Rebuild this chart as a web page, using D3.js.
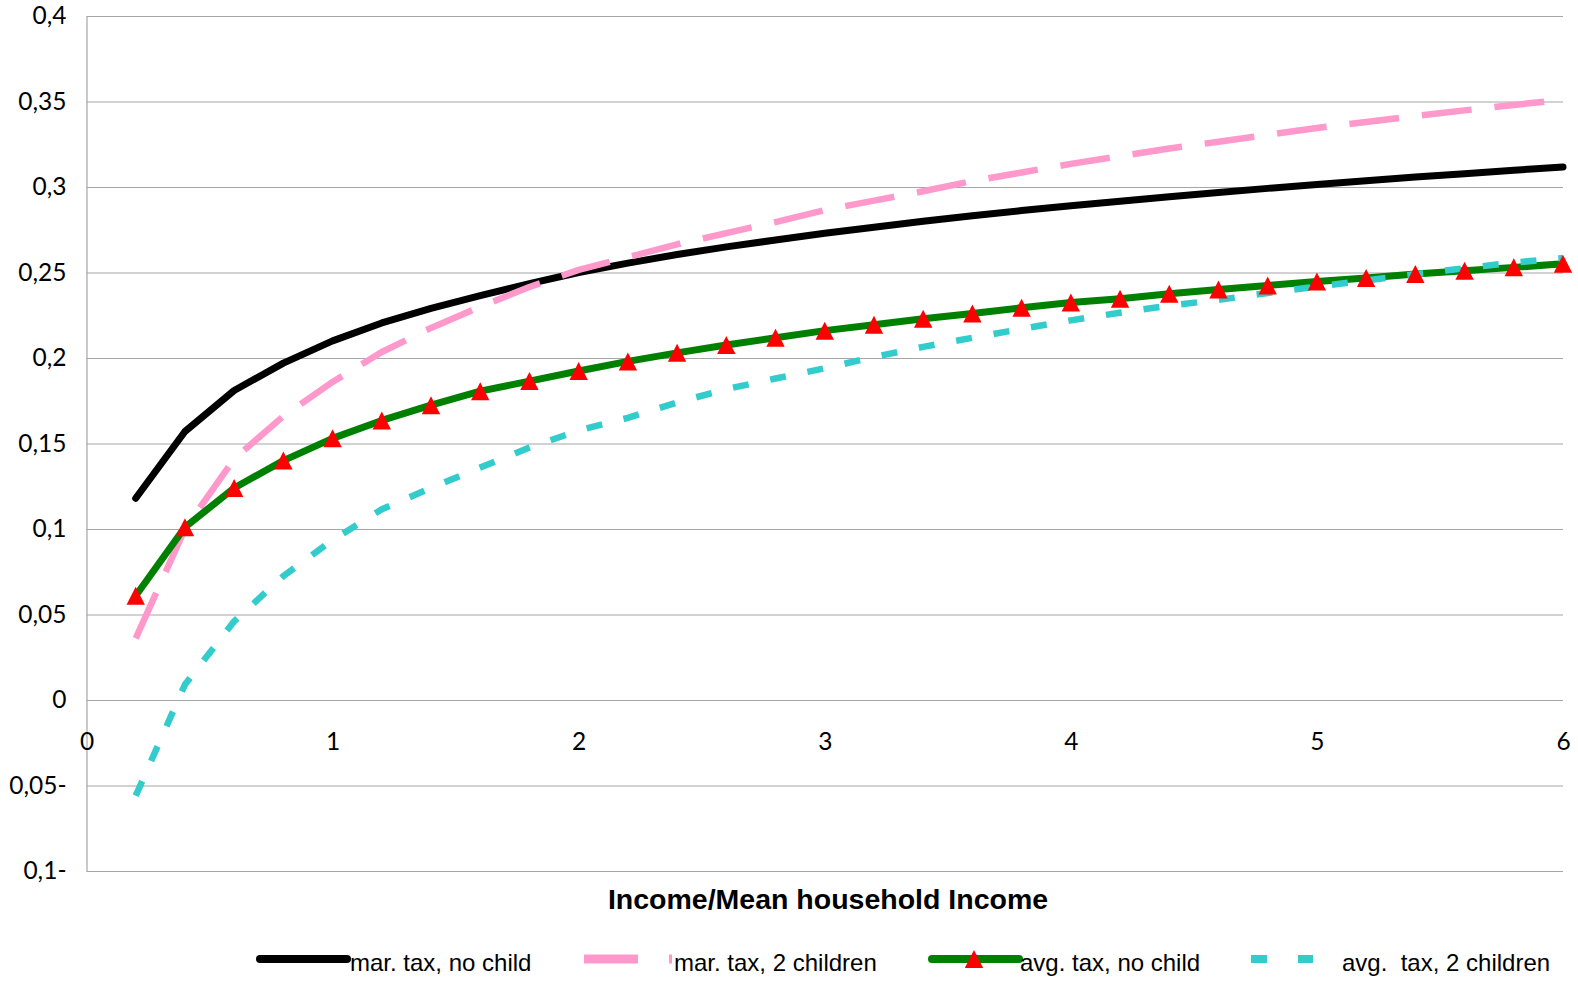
<!DOCTYPE html>
<html><head><meta charset="utf-8">
<script src="https://cdn.jsdelivr.net/npm/d3@7"></script>
<style>body{margin:0;background:#fff} svg text{white-space:pre}</style>
</head><body>
<svg id="chart" width="1578" height="981"></svg>
<script>
// ---- data ----
const incomeRatio = [0.2,0.4,0.6,0.8,1.0,1.2,1.4,1.6,1.8,2.0,2.2,2.4,2.6,2.8,3.0,3.2,3.4,3.6,3.8,4.0,4.2,4.4,4.6,4.8,5.0,5.2,5.4,5.6,5.8,6.0];
const marTaxNoChild = [0.118,0.157,0.181,0.197,0.210,0.2205,0.229,0.2365,0.2435,0.250,0.2555,0.2605,0.265,0.269,0.273,0.2765,0.280,0.2832,0.2862,0.289,0.2917,0.2943,0.2968,0.2992,0.3015,0.3037,0.3058,0.3078,0.3098,0.3117];
const marTaxTwoChildren = [0.036,0.100,0.141,0.166,0.186,0.2035,0.2176,0.230,0.2415,0.2515,0.259,0.2665,0.273,0.2795,0.2865,0.292,0.2975,0.3035,0.3085,0.3135,0.318,0.3225,0.3265,0.3305,0.3345,0.338,0.3415,0.3448,0.348,0.351];
const avgTaxNoChild = [0.061,0.101,0.124,0.140,0.153,0.1635,0.1724,0.1806,0.1865,0.1924,0.198,0.203,0.2076,0.2118,0.216,0.2194,0.223,0.226,0.2294,0.2324,0.2347,0.2376,0.240,0.2424,0.2447,0.2468,0.2491,0.2510,0.2530,0.2551];
const avgTaxTwoChildren = [-0.056,0.009,0.046,0.0725,0.0935,0.1115,0.124,0.136,0.1476,0.1576,0.165,0.174,0.1818,0.188,0.194,0.2006,0.2065,0.2118,0.217,0.222,0.2265,0.2306,0.234,0.238,0.2418,0.2453,0.249,0.2525,0.2558,0.2585];
const yTickValues = [0.4,0.35,0.3,0.25,0.2,0.15,0.1,0.05,0,-0.05,-0.1];
const yTickLabels = ["0,4","0,35","0,3","0,25","0,2","0,15","0,1","0,05","0","0,05-","0,1-"];
const xTickValues = [0,1,2,3,4,5,6];
const xTickLabels = ["0","1","2","3","4","5","6"];
const seriesNames = ["mar. tax, no child","mar. tax, 2 children","avg. tax, no child","avg.  tax, 2 children"];
const axisTitle = "Income/Mean household Income";

// ---- layout ----
const L = 86.5, R = 1563, T = 16, B = 871;
const svg = d3.select("#chart");
const x = d3.scaleLinear().domain([0,6]).range([L,R]);
const y = d3.scaleLinear().domain([-0.1,0.4]).range([B,T]);
const grid = "#a6a6a6";
const tickFont = "Lato, 'Open Sans', sans-serif";

// y axis with gridlines
const yAxis = svg.append("g").attr("transform",`translate(${L},0)`)
  .call(d3.axisLeft(y).tickValues(yTickValues).tickSize(-(R-L)).tickSizeOuter(0).tickPadding(20)
    .tickFormat((d,i)=>yTickLabels[i]));
yAxis.select(".domain").attr("stroke",grid).attr("stroke-width",1.2);
yAxis.selectAll(".tick line").attr("stroke",grid).attr("stroke-width",1.2);
yAxis.selectAll(".tick text").attr("font-family",tickFont).attr("font-size",24.5).attr("fill","#000");

// x tick labels below the zero line
const xAxis = svg.append("g").attr("transform",`translate(0,${y(0)})`)
  .call(d3.axisBottom(x).tickValues(xTickValues).tickSize(0).tickFormat((d,i)=>xTickLabels[i]));
xAxis.select(".domain").remove();
xAxis.selectAll(".tick text").attr("y",41).attr("dy","0.35em")
  .attr("font-family",tickFont).attr("font-size",24.5).attr("fill","#000");

// lines
const line = d3.line().x((d,i)=>x(incomeRatio[i])).y(d=>y(d));
const series = [
  {vals: marTaxNoChild, color:"#000000", w:7, dash:null, cap:"round"},
  {vals: marTaxTwoChildren, color:"#ff99cc", w:6.5, dash:"50,23", cap:"butt"},
  {vals: avgTaxNoChild, color:"#008000", w:7, dash:null, cap:"round"},
  {vals: avgTaxTwoChildren, color:"#33cccc", w:6.5, dash:"16,22", cap:"butt"}
];
series.forEach(s=>{
  svg.append("path").attr("d",line(s.vals)).attr("fill","none")
    .attr("stroke",s.color).attr("stroke-width",s.w)
    .attr("stroke-linejoin","round").attr("stroke-linecap",s.cap)
    .attr("stroke-dasharray",s.dash);
});

// triangle markers
const tri = "M0,-9L9.2,9L-9.2,9Z";
svg.append("g").selectAll("path").data(avgTaxNoChild).join("path")
  .attr("d",tri).attr("fill","#ff0000")
  .attr("transform",(d,i)=>`translate(${x(incomeRatio[i])},${y(d)})`);

// axis title
svg.append("text").attr("x",828).attr("y",909).attr("text-anchor","middle")
  .attr("font-family","'Liberation Sans', Arial, sans-serif").attr("font-weight","bold")
  .attr("font-size",28.5).attr("fill","#000").text(axisTitle);

// legend
const ly = 959, tb = 970.5;
const lg = svg.append("g");
const legendItems = [
  {x1:260,x2:347,color:"#000",w:8,dash:null,cap:"round",tx:350},
  {x1:584,x2:672,color:"#ff99cc",w:9,dash:"54,31",cap:"butt",tx:674},
  {x1:932,x2:1019,color:"#008000",w:8,dash:null,cap:"round",tx:1020,marker:974},
  {x1:1251,x2:1313,color:"#33cccc",w:8,dash:"16,31",cap:"butt",tx:1342}
];
legendItems.forEach((it,i)=>{
  lg.append("line").attr("x1",it.x1).attr("x2",it.x2).attr("y1",ly).attr("y2",ly)
    .attr("stroke",it.color).attr("stroke-width",it.w).attr("stroke-linecap",it.cap)
    .attr("stroke-dasharray",it.dash);
  if(it.marker) lg.append("path").attr("d",tri).attr("fill","#ff0000")
    .attr("transform",`translate(${it.marker},${ly})`);
  lg.append("text").attr("x",it.tx).attr("y",tb)
    .attr("font-family","'Liberation Sans', Arial, sans-serif").attr("font-size",24)
    .attr("fill","#000").attr("xml:space","preserve").text(seriesNames[i]);
});
</script>
</body></html>
